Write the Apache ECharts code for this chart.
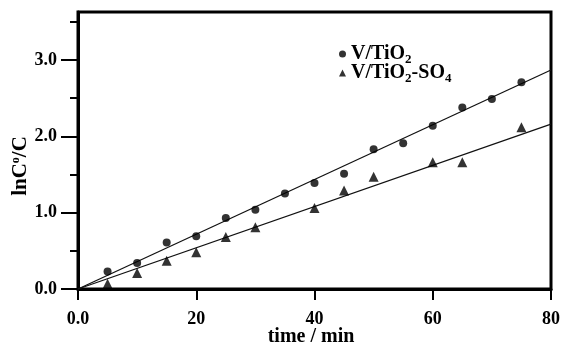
<!DOCTYPE html>
<html><head><meta charset="utf-8">
<script src="https://cdn.jsdelivr.net/npm/echarts@6/dist/echarts.min.js"></script>
<style>html,body{margin:0;padding:0;background:#fff}#c{width:563px;height:347px}</style>
</head><body><div id="c"></div>
<script>
// Data
var time = [5,10,15,20,25,30,35,40,45,50,55,60,65,70,75];
var vTiO2 = [0.23,0.34,0.61,0.69,0.93,1.04,1.25,1.39,1.51,1.83,1.91,2.14,2.38,2.49,2.71];
var timeSO4 = [5,10,15,20,25,30,40,45,50,60,65,75];
var vTiO2SO4 = [0.07,0.21,0.37,0.48,0.68,0.81,1.06,1.29,1.47,1.66,1.66,2.12];
var fitX = [0, 80];
var fitTiO2 = [0, 2.87];
var fitSO4 = [0, 2.16];
var xTicks = [0,20,40,60,80];
var xTickLabels = ['0.0','20','40','60','80'];
var yTicks = [0,1,2,3];
var yTickLabels = ['0.0','1.0','2.0','3.0'];
var yMinorTicks = [0.5,1.5,2.5,3.5];
var yMax = 3.63;

function pairs(xs, ys){ return xs.map(function(x,i){ return [x, ys[i]]; }); }

var serif = '"Liberation Serif","DejaVu Serif",serif';
var chart = echarts.init(document.getElementById('c'));
chart.setOption({
  animation: false,
  backgroundColor: '#fff',
  grid: { left: 78, right: 8, top: 12, bottom: 58, show: true, borderColor: '#000', borderWidth: 3, backgroundColor: 'transparent' },
  legend: {
    orient: 'vertical', left: 334, top: 39, itemWidth: 7, itemHeight: 7, itemGap: -3,
    data: [{name:'V/TiO2', icon:'circle'}, {name:'V/TiO2-SO4', icon:'triangle'}],
    formatter: function(n){ return n === 'V/TiO2' ? '{m|V/TiO}{s|2}' : '{m|V/TiO}{s|2}{m|-SO}{s|4}'; },
    textStyle: {
      color: '#000',
      rich: {
        m: { fontFamily: serif, fontWeight: 'bold', fontSize: 20, lineHeight: 20, color: '#000' },
        s: { fontFamily: serif, fontWeight: 'bold', fontSize: 13, lineHeight: 13, color: '#000', verticalAlign: 'bottom', padding: [0,0,-2,0] }
      }
    }
  },
  xAxis: {
    type: 'value', min: 0, max: 80, interval: 20,
    axisLine: { lineStyle: { color: '#000', width: 3 } },
    axisTick: { show: true, length: 11, lineStyle: { color: '#000', width: 2 }, customValues: xTicks },
    axisLabel: { margin: 21, color: '#000', fontFamily: serif, fontWeight: 'bold', fontSize: 18,
      customValues: xTicks,
      formatter: function(v){ var i = xTicks.indexOf(v); return i >= 0 ? xTickLabels[i] : ''; } },
    splitLine: { show: false }
  },
  yAxis: [{
    type: 'value', min: 0, max: yMax, position: 'left',
    axisLine: { lineStyle: { color: '#000', width: 3 } },
    axisTick: { show: true, length: 17, lineStyle: { color: '#000', width: 2 }, customValues: yTicks },
    axisLabel: { margin: 21, color: '#000', fontFamily: serif, fontWeight: 'bold', fontSize: 18,
      customValues: yTicks,
      formatter: function(v){ var i = yTicks.indexOf(v); return i >= 0 ? yTickLabels[i] : ''; } },
    splitLine: { show: false }
  }, {
    type: 'value', min: 0, max: yMax, position: 'left', offset: 0,
    axisLine: { show: false },
    axisTick: { show: true, length: 8, lineStyle: { color: '#000', width: 2 }, customValues: yMinorTicks },
    axisLabel: { show: false },
    splitLine: { show: false }
  }],
  graphic: [
    { type: 'text', x: 21, y: 166, rotation: Math.PI/2,
      style: { text: '{m|lnC}{p|o}{m|/C}', align: 'center', verticalAlign: 'middle',
        rich: {
          m: { fontFamily: serif, fontWeight: 'bold', fontSize: 21, lineHeight: 22, fill: '#000' },
          p: { fontFamily: serif, fontWeight: 'bold', fontSize: 12, lineHeight: 12, fill: '#000', verticalAlign: 'top' }
        } } },
    { type: 'text', x: 311, y: 337,
      style: { text: 'time / min', align: 'center', verticalAlign: 'middle', fontFamily: serif, fontWeight: 'bold', fontSize: 20, fill: '#000' } }
  ],
  series: [
    { name: 'fit1', type: 'line', data: pairs(fitX, fitTiO2), symbol: 'none', lineStyle: { color: '#111', width: 1.3 }, z: 1 },
    { name: 'fit2', type: 'line', data: pairs(fitX, fitSO4), symbol: 'none', lineStyle: { color: '#111', width: 1.3 }, z: 1 },
    { name: 'V/TiO2', type: 'scatter', data: pairs(time, vTiO2), symbol: 'circle', symbolSize: 8, itemStyle: { color: '#000' }, z: 3 },
    { name: 'V/TiO2-SO4', type: 'scatter', data: pairs(timeSO4, vTiO2SO4), symbol: 'triangle', symbolSize: [10,10], itemStyle: { color: '#000' }, z: 3 }
  ]
});
</script></body></html>
